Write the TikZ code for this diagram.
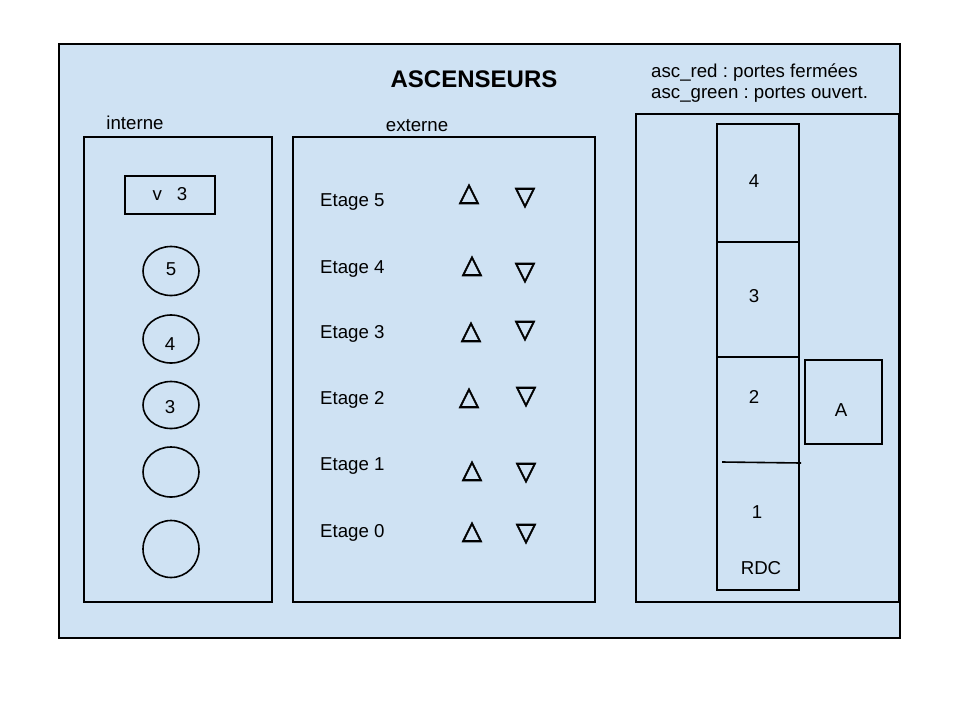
\documentclass[tikz,border=0pt]{standalone}
\usepackage{fontspec}
\usetikzlibrary{shapes.geometric}
\setmainfont{Liberation Sans}
\newfontfamily\trifont[FakeBold=2.5]{DejaVu Sans}
\definecolor{bgblue}{HTML}{CFE2F3}
\frenchspacing
\begin{document}
\begin{tikzpicture}[x=1pt,y=-1pt,
  box/.style={draw=black,line width=1.6pt},
  txt/.style={inner sep=0pt,font=\fontsize{18.67}{22}\selectfont},
  lefttxt/.style={txt,anchor=west},
  btn/.style={draw=black,line width=1.6pt,ellipse,inner sep=0pt,minimum width=56pt,minimum height=49pt},
  tri/.style={inner sep=0pt,font=\trifont\fontsize{26}{30}\selectfont}]
\useasboundingbox (0,0) rectangle (960,720);
\fill[white] (0,0) rectangle (960,720);
% outer frame
\draw[box,fill=bgblue] (59,44) rectangle (900,638);
\node[inner sep=0pt,font=\bfseries\fontsize{24}{28}\selectfont] (title) at (474,79) {ASCENSEURS};
\node[lefttxt] (legR) at (651,73) {asc\_red : portes fermées};
\node[lefttxt] (legG) at (651,94) {asc\_green : portes ouvert.};
\node[txt] (lint) at (135,123) {interne};
\node[txt] (lext) at (417,126) {externe};
% panels
\draw[box] (84,137) rectangle (272,602);
\draw[box] (293,137) rectangle (595,602);
\draw[box] (636,114) rectangle (899,602);
% interne
\draw[box] (125,176) rectangle (215,214);
\node[txt] (disp) at (170,194) {v\hspace{0.8em}3};
\node[btn] (b5) at (171,271) {};
\node[txt] (t5) at (171,269) {5};
\node[btn,minimum height=48pt] (b4) at (171,339) {};
\node[txt] (t4) at (170,344) {4};
\node[btn,minimum height=47pt] (b3) at (171,405) {};
\node[txt] (t3) at (170,407) {3};
\node[btn,minimum height=50pt] (b2) at (171,472) {};
\node[btn,minimum height=57pt] (b1) at (171,549) {};
% externe
\node[lefttxt] (e5) at (320,202) {Etage 5};
\node[lefttxt] (e4) at (320,269) {Etage 4};
\node[lefttxt] (e3) at (320,334) {Etage 3};
\node[lefttxt] (e2) at (320,400) {Etage 2};
\node[lefttxt] (e1) at (320,466) {Etage 1};
\node[lefttxt] (e0) at (320,533) {Etage 0};
\node[tri] (u5) at (469,194) {△};
\node[tri] (d5) at (525,198) {▽};
\node[tri] (u4) at (472,266) {△};
\node[tri] (d4) at (525,273) {▽};
\node[tri] (u3) at (471,332) {△};
\node[tri] (d3) at (525,331) {▽};
\node[tri] (u2) at (469,398) {△};
\node[tri] (d2) at (526,397) {▽};
\node[tri] (u1) at (472,471) {△};
\node[tri] (d1) at (526,473) {▽};
\node[tri] (u0) at (472,532) {△};
\node[tri] (d0) at (526,534) {▽};
% shaft
\draw[box] (717,124) rectangle (799,590);
\draw[box] (717,242) -- (799,242);
\draw[box] (717,357) -- (799,357);
\draw[box] (722,462) -- (801,463);
\node[txt] (f4) at (754,181) {4};
\node[txt] (f3) at (754,296) {3};
\node[txt] (f2) at (754,397) {2};
\node[txt] (f1) at (757,512) {1};
\node[txt] (rdc) at (761,568) {RDC};
\draw[box] (805,360) rectangle (882,444);
\node[txt] (cabA) at (841,410) {A};
\end{tikzpicture}
\end{document}
